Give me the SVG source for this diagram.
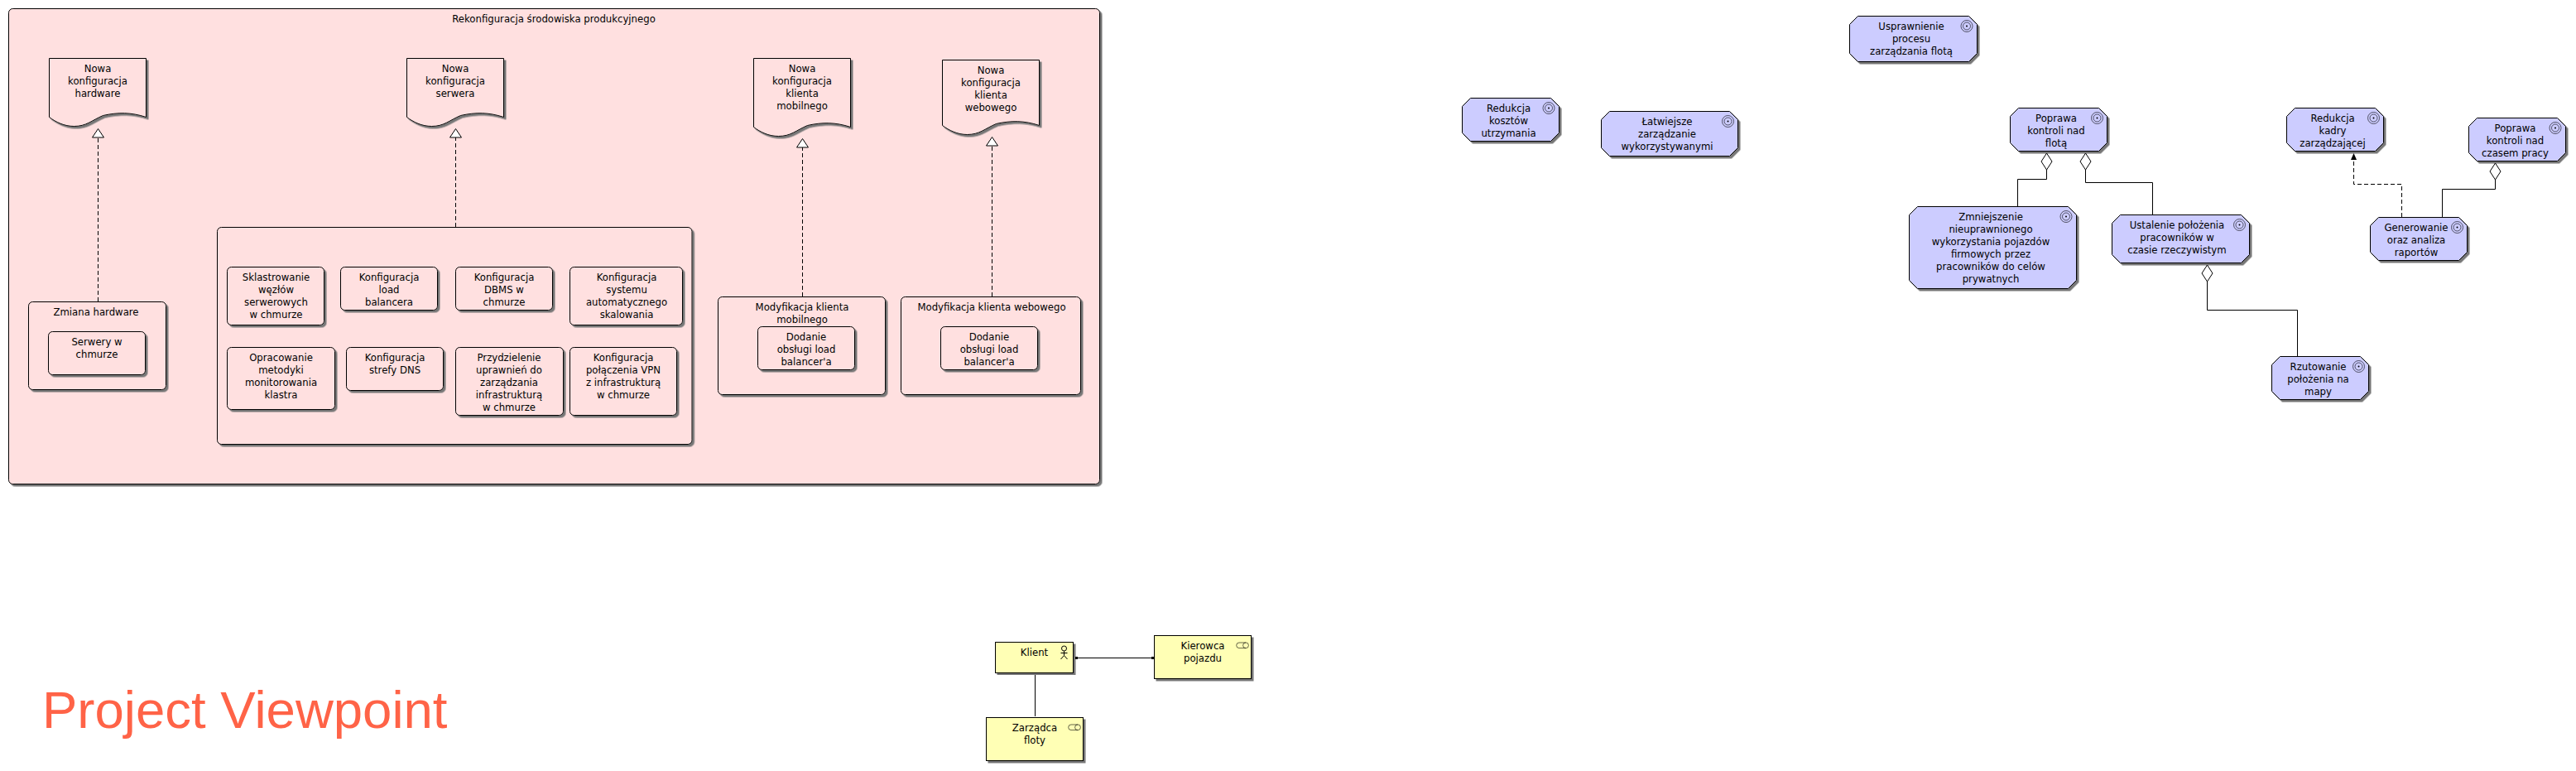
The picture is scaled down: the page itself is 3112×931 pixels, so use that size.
<svg xmlns="http://www.w3.org/2000/svg" width="3112" height="931" viewBox="0 0 3112 931">
<style>
text{font-family:"DejaVu Sans","Liberation Sans",sans-serif;font-size:11.7px;fill:#000;text-anchor:middle}
text.title{font-family:"Liberation Sans",Arial,sans-serif;font-size:63.5px;fill:#FF6347;text-anchor:start}
.s{filter:url(#sh)}
.pk{fill:#FFE0E0;stroke:#000;stroke-width:1}
.bl{fill:#CCCCFF;stroke:#000;stroke-width:1}
.yl{fill:#FFFFB5;stroke:#000;stroke-width:1}
.ln{fill:none;stroke:#000;stroke-width:1}
.da{fill:none;stroke:#000;stroke-width:1;stroke-dasharray:5 3}
.op{fill:#fff;stroke:#000;stroke-width:1}
.ic{fill:none;stroke:#000;stroke-width:.6}
</style>
<defs>
<filter id="sh" x="-5%" y="-5%" width="110%" height="110%"><feDropShadow dx="2.5" dy="2.5" stdDeviation="0.5" flood-color="#777"/></filter>
<g id="goal"><circle r="7" class="ic"/><circle r="4.5" class="ic"/><circle r="1" fill="#000"/></g>
<g id="role"><path class="ic" d="M11.5 0H3.5a3.3 3.3 0 0 0 0 6.6H11.5"/><circle cx="11.5" cy="3.3" r="3.4" class="ic"/></g>
<path id="tri" class="op" d="M0 0L7 10.5H-7Z"/>
<path id="dia" class="op" d="M0 0L6.5 10L0 20L-6.5 10Z"/>
</defs>
<rect width="3112" height="931" fill="#fff"/>

<g id="rekonfiguracja">
<rect class="pk s" x="10.5" y="10.5" width="1318" height="574" rx="5"/>
<text x="669" y="27">Rekonfiguracja środowiska produkcyjnego</text>
</g>

<g id="doc-hardware"><path class="pk s" d="M59.5 70.5h117v71c-18-6-34-6-52-2c-14 6-20 13-35 13c-12 0-22-5-30-11z"/>
<text x="118" y="86.5">Nowa</text><text x="118" y="101.5">konfiguracja</text><text x="118" y="116.5">hardware</text></g>
<g id="doc-serwer"><path class="pk s" d="M491.5 70.5h117v71c-18-6-34-6-52-2c-14 6-20 13-35 13c-12 0-22-5-30-11z"/>
<text x="550" y="86.5">Nowa</text><text x="550" y="101.5">konfiguracja</text><text x="550" y="116.5">serwera</text></g>
<g id="doc-mobilny"><path class="pk s" d="M910.5 70.5h117v83c-18-6-34-6-52-2c-14 6-20 13-35 13c-12 0-22-5-30-11z"/>
<text x="969" y="86.5">Nowa</text><text x="969" y="101.5">konfiguracja</text><text x="969" y="116.5">klienta</text><text x="969" y="131.5">mobilnego</text></g>
<g id="doc-webowy"><path class="pk s" d="M1138.5 72.5h117v79c-18-6-34-6-52-2c-14 6-20 13-35 13c-12 0-22-5-30-11z"/>
<text x="1197" y="88.5">Nowa</text><text x="1197" y="103.5">konfiguracja</text><text x="1197" y="118.5">klienta</text><text x="1197" y="133.5">webowego</text></g>

<g id="zmiana-hardware"><rect class="pk s" x="34.5" y="364.5" width="166" height="106" rx="5"/>
<text x="116" y="381">Zmiana hardware</text></g>
<g id="serwery"><rect class="pk s" x="58.5" y="400.5" width="117" height="52" rx="5"/>
<text x="117" y="417">Serwery w</text><text x="117" y="432">chmurze</text></g>

<g id="grupa-serwer"><rect class="pk s" x="262.5" y="274.5" width="573.5" height="262" rx="5"/></g>
<g id="sklastrowanie"><rect class="pk s" x="274.5" y="322.5" width="117" height="70" rx="5"/>
<text x="333.5" y="339">Sklastrowanie</text><text x="333.5" y="354">węzłów</text><text x="333.5" y="369">serwerowych</text><text x="333.5" y="384">w chmurze</text></g>
<g id="load-balancer"><rect class="pk s" x="411.5" y="322.5" width="117" height="52" rx="5"/>
<text x="470" y="339">Konfiguracja</text><text x="470" y="354">load</text><text x="470" y="369">balancera</text></g>
<g id="dbms"><rect class="pk s" x="550.5" y="322.5" width="117" height="52" rx="5"/>
<text x="609" y="339">Konfiguracja</text><text x="609" y="354">DBMS w</text><text x="609" y="369">chmurze</text></g>
<g id="skalowanie"><rect class="pk s" x="688.5" y="322.5" width="136" height="70" rx="5"/>
<text x="757" y="339">Konfiguracja</text><text x="757" y="354">systemu</text><text x="757" y="369">automatycznego</text><text x="757" y="384">skalowania</text></g>
<g id="monitorowanie"><rect class="pk s" x="274.5" y="419.5" width="130" height="75" rx="5"/>
<text x="339.5" y="436">Opracowanie</text><text x="339.5" y="451">metodyki</text><text x="339.5" y="466">monitorowania</text><text x="339.5" y="481">klastra</text></g>
<g id="dns"><rect class="pk s" x="418.5" y="419.5" width="117" height="52" rx="5"/>
<text x="477" y="436">Konfiguracja</text><text x="477" y="451">strefy DNS</text></g>
<g id="uprawnienia"><rect class="pk s" x="550.5" y="419.5" width="130" height="82" rx="5"/>
<text x="615" y="436">Przydzielenie</text><text x="615" y="451">uprawnień do</text><text x="615" y="466">zarządzania</text><text x="615" y="481">infrastrukturą</text><text x="615" y="496">w chmurze</text></g>
<g id="vpn"><rect class="pk s" x="688.5" y="419.5" width="129" height="82" rx="5"/>
<text x="753" y="436">Konfiguracja</text><text x="753" y="451">połączenia VPN</text><text x="753" y="466">z infrastrukturą</text><text x="753" y="481">w chmurze</text></g>

<g id="mod-mobilny"><rect class="pk s" x="867.5" y="358.5" width="202" height="118" rx="5"/>
<text x="969" y="375">Modyfikacja klienta</text><text x="969" y="390">mobilnego</text></g>
<g id="dodanie-mobilny"><rect class="pk s" x="915.5" y="394.5" width="117" height="52" rx="5"/>
<text x="974" y="411">Dodanie</text><text x="974" y="426">obsługi load</text><text x="974" y="441">balancer'a</text></g>
<g id="mod-webowy"><rect class="pk s" x="1088.5" y="358.5" width="217" height="118" rx="5"/>
<text x="1198" y="375">Modyfikacja klienta webowego</text></g>
<g id="dodanie-webowy"><rect class="pk s" x="1136.5" y="394.5" width="117" height="52" rx="5"/>
<text x="1195" y="411">Dodanie</text><text x="1195" y="426">obsługi load</text><text x="1195" y="441">balancer'a</text></g>

<g id="redukcja-kosztow"><path class="bl s" d="M1776.5 118.5H1873.5L1883.5 128.5V160.5L1873.5 170.5H1776.5L1766.5 160.5V128.5Z"/><use href="#goal" x="1871" y="130.5"/>
<text x="1822.5" y="135">Redukcja</text><text x="1822.5" y="150">kosztów</text><text x="1822.5" y="165">utrzymania</text></g>
<g id="latwiejsze"><path class="bl s" d="M1944.5 134.5H2089.5L2099.5 144.5V178.5L2089.5 188.5H1944.5L1934.5 178.5V144.5Z"/><use href="#goal" x="2087.5" y="146.5"/>
<text x="2014" y="151">Łatwiejsze</text><text x="2014" y="166">zarządzanie</text><text x="2014" y="181">wykorzystywanymi</text></g>
<g id="usprawnienie"><path class="bl s" d="M2244.5 19.5H2378.5L2388.5 29.5V64.5L2378.5 74.5H2244.5L2234.5 64.5V29.5Z"/><use href="#goal" x="2376" y="31.5"/>
<text x="2309" y="36">Usprawnienie</text><text x="2309" y="51">procesu</text><text x="2309" y="66">zarządzania flotą</text></g>
<g id="poprawa-floty"><path class="bl s" d="M2438.5 130.5H2535.5L2545.5 140.5V172.5L2535.5 182.5H2438.5L2428.5 172.5V140.5Z"/><use href="#goal" x="2533.5" y="142.5"/>
<text x="2484" y="147">Poprawa</text><text x="2484" y="162">kontroli nad</text><text x="2484" y="177">flotą</text></g>
<g id="zmniejszenie"><path class="bl s" d="M2316.5 249.5H2498.5L2508.5 259.5V338.5L2498.5 348.5H2316.5L2306.5 338.5V259.5Z"/><use href="#goal" x="2496" y="261.5"/>
<text x="2405" y="266">Zmniejszenie</text><text x="2405" y="281">nieuprawnionego</text><text x="2405" y="296">wykorzystania pojazdów</text><text x="2405" y="311">firmowych przez</text><text x="2405" y="326">pracowników do celów</text><text x="2405" y="341">prywatnych</text></g>
<g id="ustalenie"><path class="bl s" d="M2561.5 259.5H2707.5L2717.5 269.5V307.5L2707.5 317.5H2561.5L2551.5 307.5V269.5Z"/><use href="#goal" x="2705.5" y="271.5"/>
<text x="2630" y="276">Ustalenie położenia</text><text x="2630" y="291">pracowników w</text><text x="2630" y="306">czasie rzeczywistym</text></g>
<g id="rzutowanie"><path class="bl s" d="M2754.5 430.5H2851.5L2861.5 440.5V472.5L2851.5 482.5H2754.5L2744.5 472.5V440.5Z"/><use href="#goal" x="2849.5" y="442.5"/>
<text x="2800.5" y="447">Rzutowanie</text><text x="2800.5" y="462">położenia na</text><text x="2800.5" y="477">mapy</text></g>
<g id="redukcja-kadry"><path class="bl s" d="M2772.5 130.5H2869.5L2879.5 140.5V172.5L2869.5 182.5H2772.5L2762.5 172.5V140.5Z"/><use href="#goal" x="2867.5" y="142.5"/>
<text x="2818" y="147">Redukcja</text><text x="2818" y="162">kadry</text><text x="2818" y="177">zarządzającej</text></g>
<g id="poprawa-czasu"><path class="bl s" d="M2992.5 142.5H3089.5L3099.5 152.5V184.5L3089.5 194.5H2992.5L2982.5 184.5V152.5Z"/><use href="#goal" x="3087" y="154.5"/>
<text x="3038.5" y="159">Poprawa</text><text x="3038.5" y="174">kontroli nad</text><text x="3038.5" y="189">czasem pracy</text></g>
<g id="generowanie"><path class="bl s" d="M2873.5 262.5H2970.5L2980.5 272.5V304.5L2970.5 314.5H2873.5L2863.5 304.5V272.5Z"/><use href="#goal" x="2968.5" y="274.5"/>
<text x="2919" y="279">Generowanie</text><text x="2919" y="294">oraz analiza</text><text x="2919" y="309">raportów</text></g>

<g id="klient"><rect class="yl s" x="1202.5" y="775.5" width="94" height="37"/>
<text x="1249.5" y="792">Klient</text>
<g fill="none" stroke="#000" stroke-width="1"><circle cx="1285.5" cy="783" r="3"/><path d="M1285.5 786V791.5M1281.5 788.5H1289.5M1281.5 796L1285.5 791.5L1289.5 796"/></g></g>
<g id="kierowca"><rect class="yl s" x="1394.5" y="767.5" width="117" height="52"/>
<use href="#role" x="1493.5" y="776"/>
<text x="1453" y="784">Kierowca</text><text x="1453" y="799">pojazdu</text></g>
<g id="zarzadca"><rect class="yl s" x="1191.5" y="866.5" width="117" height="52"/>
<use href="#role" x="1290.5" y="875"/>
<text x="1250" y="883">Zarządca</text><text x="1250" y="898">floty</text></g>

<g id="connectors">
<path class="da" d="M118.5 364V165"/><use href="#tri" x="118.5" y="155.5"/>
<path class="da" d="M550.5 274V165"/><use href="#tri" x="550.5" y="155.5"/>
<path class="da" d="M969.5 358V178"/><use href="#tri" x="969.5" y="167.5"/>
<path class="da" d="M1198.5 358V176"/><use href="#tri" x="1198.5" y="165.5"/>
<path class="ln" d="M2472.5 205V216.5H2437.5V249"/><use href="#dia" x="2472.5" y="185"/>
<path class="ln" d="M2519.5 205V220.5H2600.5V259"/><use href="#dia" x="2519.5" y="185"/>
<path class="ln" d="M2666.5 340V374.5H2775.5V430"/><use href="#dia" x="2666.5" y="320"/>
<path class="ln" d="M3014.5 217V228.5H2950.5V262"/><use href="#dia" x="3014.5" y="197"/>
<path class="da" d="M2901.5 262V222.5H2843.5V192"/><path d="M2843.5 185L2847 193H2840Z" fill="#000"/>
<path class="ln" d="M1300 794.5H1392.5"/><rect x="1299" y="793" width="3" height="3" fill="#000"/><rect x="1391" y="793" width="3" height="3" fill="#000"/>
<path class="ln" d="M1250.5 815V865"/>
</g>

<text class="title" x="51" y="879">Project Viewpoint</text>
</svg>
